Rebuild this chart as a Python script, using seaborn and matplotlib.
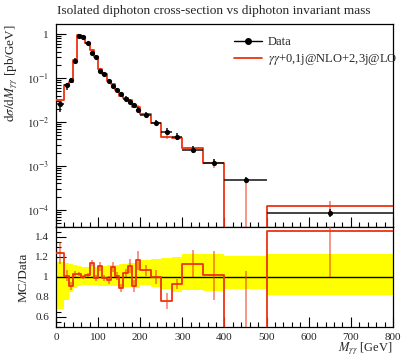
import numpy as np
import matplotlib
matplotlib.use("Agg")
import matplotlib.pyplot as plt
import seaborn as sns
import pandas as pd
from matplotlib.ticker import MultipleLocator, FuncFormatter, LogLocator, NullFormatter, FixedLocator
from matplotlib.lines import Line2D

# ---- data ----
edges = [0, 20, 30, 40, 50, 60, 70, 80, 90, 100, 110, 120, 130, 140, 150, 160,
         170, 180, 190, 200, 225, 250, 275, 300, 350, 400, 500, 800]
data = [0.025, 0.069, 0.090, 0.25, 0.92, 0.87, 0.61, 0.38, 0.30, 0.147, 0.123,
        0.087, 0.066, 0.053, 0.043, 0.034, 0.029, 0.024, 0.019, 0.0145, 0.0093,
        0.0060, 0.0046, 0.0023, 0.00115, 0.00047, 0.000084]
# relative data uncertainties (up / down)
data_err_up = [0.15, 0.14, 0.13, 0.12, 0.11, 0.10, 0.10, 0.11, 0.10, 0.11, 0.11,
               0.12, 0.12, 0.12, 0.13, 0.13, 0.14, 0.14, 0.15, 0.17, 0.18, 0.19,
               0.20, 0.23, 0.23, 0.21, 0.23]
data_err_dn = [0.32, 0.23, 0.15, 0.11, 0.09, 0.08, 0.08, 0.08, 0.08, 0.09, 0.09,
               0.09, 0.09, 0.09, 0.10, 0.10, 0.10, 0.11, 0.11, 0.08, 0.10, 0.12,
               0.15, 0.13, 0.14, 0.12, 0.18]
mc = [0.031, 0.070, 0.082, 0.258, 0.95, 0.87, 0.62, 0.433, 0.297, 0.163, 0.122,
      0.0844, 0.0726, 0.0535, 0.0383, 0.0354, 0.0322, 0.0218, 0.0222, 0.0155,
      0.0093, 0.00456, 0.00428, 0.0026, 0.00117, 0.0, 0.000123]
mc_err = [0.0028, 0.0035, 0.0033, 0.0077, 0.019, 0.017, 0.012, 0.013, 0.009,
          0.0065, 0.0037, 0.0034, 0.0036, 0.0021, 0.0019, 0.0014, 0.0019, 0.0015,
          0.0018, 0.0008, 0.00065, 0.0005, 0.00021, 0.00031, 0.00028, 0.0005,
          0.000039]

title = "Isolated diphoton cross-section vs diphoton invariant mass"
mc_label = r"$\gamma\gamma$+0,1j@NLO+2,3j@LO"

# ---- style ----
sns.set_theme(style="ticks")
plt.rcParams["font.family"] = ["Liberation Serif", "DejaVu Serif"]
plt.rcParams["mathtext.fontset"] = "stix"
RED = "#ee3311"

edges_a = np.array(edges, dtype=float)
lo, hi = edges_a[:-1], edges_a[1:]
centers = 0.5 * (lo + hi)
halfw = 0.5 * (hi - lo)
data_a = np.array(data)
mc_a = np.array(mc)
mc_err_a = np.array(mc_err)
up_a = np.array(data_err_up)
dn_a = np.array(data_err_dn)

W, H = 402, 359
fig = plt.figure(figsize=(W / 100, H / 100), dpi=100)
ax = fig.add_axes([56 / W, 1 - 227 / H, 337 / W, 203 / H])
rax = fig.add_axes([56 / W, 1 - 327 / H, 337 / W, 100 / H], sharex=ax)

# ---- main panel ----
mc_plot = np.where(mc_a > 0, mc_a, 1e-12)
df_mc = pd.DataFrame({"x": edges_a, "y": np.append(mc_plot, mc_plot[-1])})
sns.lineplot(data=df_mc, x="x", y="y", ax=ax, drawstyle="steps-post", color=RED,
             lw=1.3, estimator=None, sort=False, legend=False, zorder=3)
mc_lo = np.maximum(mc_plot - mc_err_a, 1e-12)
ax.vlines(centers, mc_lo, mc_plot + mc_err_a, color=RED, lw=1.3, alpha=0.55, zorder=3)

ax.errorbar(centers, data_a, xerr=halfw, yerr=[data_a * dn_a, data_a * up_a],
            fmt="none", ecolor="#111111", elinewidth=1.1, capsize=0, zorder=4)
df_d = pd.DataFrame({"x": centers, "y": data_a})
sns.scatterplot(data=df_d, x="x", y="y", ax=ax, color="black", s=14,
                edgecolor="black", linewidth=0, zorder=5, legend=False)

ax.set_yscale("log")
ax.set_xlim(0, 800)
ax.set_ylim(4.1e-5, 1.69)
ax.yaxis.set_major_locator(LogLocator(base=10, numticks=10))
ax.yaxis.set_minor_locator(LogLocator(base=10, subs=np.arange(2, 10), numticks=20))
ax.yaxis.set_minor_formatter(NullFormatter())


def logfmt(v, pos):
    e = int(round(np.log10(v)))
    if e == 0:
        return "1"
    return r"$10^{%d}$" % e


ax.yaxis.set_major_formatter(FuncFormatter(logfmt))
ax.set_ylabel(r"$\mathrm{d}\sigma/\mathrm{d}M_{\gamma\gamma}$ [pb/GeV]", loc="top",
              fontsize=9.5, labelpad=5)
ax.set_xlabel("")
ax.set_title(title, loc="left", fontsize=9.6, pad=7, x=0.003)
ax.tick_params(axis="x", labelbottom=False)

handles = [Line2D([], [], color="black", lw=1.0, marker="o", ms=4),
           Line2D([], [], color=RED, lw=1.3)]
fig.legend(handles, ["Data", mc_label], loc="upper left",
           bbox_to_anchor=(234 / W, 1 - 36 / H), frameon=False, fontsize=9,
           borderpad=0, borderaxespad=0, handlelength=2.2, handletextpad=0.5,
           labelspacing=0.35)

# ---- ratio panel ----
ratio = mc_a / data_a
ratio_err = mc_err_a / data_a
band_hi = np.append(1 + up_a, 1 + up_a[-1])
band_lo = np.append(1 - dn_a, 1 - dn_a[-1])
rax.fill_between(edges_a, band_lo, band_hi, step="post", color="#ffff00", lw=0, zorder=1)
rax.axhline(1.0, color="black", lw=1.0, zorder=2)
df_r = pd.DataFrame({"x": edges_a, "y": np.append(ratio, ratio[-1])})
sns.lineplot(data=df_r, x="x", y="y", ax=rax, drawstyle="steps-post", color=RED,
             lw=1.3, estimator=None, sort=False, legend=False, zorder=3)
rax.vlines(centers, ratio - ratio_err, ratio + ratio_err, color=RED, lw=1.3,
           alpha=0.55, zorder=3)
rax.set_ylim(0.5, 1.5)
rax.yaxis.set_major_locator(FixedLocator([0.6, 0.8, 1.0, 1.2, 1.4]))
rax.yaxis.set_minor_locator(MultipleLocator(0.05))
rax.yaxis.set_major_formatter(FuncFormatter(lambda v, p: ("%g" % round(v, 2))))
rax.set_ylabel("MC/Data", fontsize=9.5, labelpad=4)
rax.set_xlabel(r"$M_{\gamma\gamma}$ [GeV]", loc="right", fontsize=9, labelpad=-1)
rax.xaxis.set_major_locator(MultipleLocator(100))
rax.xaxis.set_minor_locator(MultipleLocator(20))

for a in (ax, rax):
    a.tick_params(which="both", direction="in", top=False, right=False,
                  labelsize=8, color="black", width=0.8)
    a.tick_params(which="major", length=7.5, pad=5)
    a.tick_params(which="minor", length=3.5)
    for s in a.spines.values():
        s.set_visible(True)
        s.set_linewidth(0.9)
        s.set_color("black")
ax.tick_params(axis="x", labelbottom=False)
rax.tick_params(axis="x", pad=4)

fig.savefig("out.png", dpi=100)
